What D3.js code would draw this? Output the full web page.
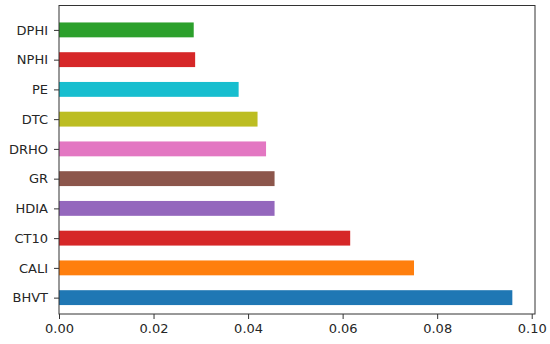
<!DOCTYPE html>
<meta charset="utf-8">
<head>
	<script src="https://d3js.org/d3.v7.min.js"></script>
	<style>
		body {
			margin: 0;
			background: #fff;
		}
		#chart svg {
			display: block;
		}
		.axis text {
			font-family: "DejaVu Sans", sans-serif;
			font-size: 13px;
			fill: #262626;
		}
		.axis line {
			stroke: #333;
		}
	</style>
</head>

<body>
	<div id="chart"></div>
</body>

<script type="text/javascript">
	// features, bottom to top
	var features = ["BHVT", "CALI", "CT10", "HDIA", "GR", "DRHO", "DTC", "PE", "NPHI", "DPHI"];
	var importances = [0.0959, 0.0751, 0.0616, 0.0456, 0.0456, 0.0438, 0.0420, 0.0380, 0.0288, 0.0285];
	var colors = ["#1f77b4", "#ff7f0e", "#d62728", "#9467bd", "#8c564b", "#e377c2", "#bcbd22", "#17becf", "#d62728", "#2ca02c"];
	var xTicks = [0, 0.02, 0.04, 0.06, 0.08, 0.10];

	var W = 550, H = 344;
	var plotLeft = 59, plotRight = 535, plotTop = 5.5, plotBottom = 314;

	var svg = d3.select("#chart").append("svg")
		.attr("width", W)
		.attr("height", H);

	var xScale = d3.scaleLinear()
		.domain([0, d3.max(importances) * 1.05])
		.range([plotLeft, plotRight]);

	// matplotlib-style index axis for the bar positions
	var yScale = d3.scaleLinear()
		.domain([-0.55, features.length - 1 + 0.82])
		.range([plotBottom, plotTop]);

	var barH = (yScale(0) - yScale(0.5));

	svg.append("g")
		.selectAll("rect")
		.data(features)
		.enter().append("rect")
		.attr("x", xScale(0))
		.attr("y", function(d, i) { return yScale(i) - barH / 2; })
		.attr("width", function(d, i) { return xScale(importances[i]) - xScale(0); })
		.attr("height", barH)
		.style("fill", function(d, i) { return colors[i]; });

	var xAxis = d3.axisBottom(xScale)
		.tickValues(xTicks)
		.tickFormat(d3.format(".2f"))
		.tickSize(5)
		.tickPadding(5);

	var yAxis = d3.axisLeft(yScale)
		.tickValues(d3.range(features.length))
		.tickFormat(function(i) { return features[i]; })
		.tickSize(5)
		.tickPadding(6);

	var xg = svg.append("g")
		.attr("class", "axis")
		.attr("transform", "translate(0," + plotBottom + ")")
		.call(xAxis);
	xg.select(".domain").remove();

	var yg = svg.append("g")
		.attr("class", "axis")
		.attr("transform", "translate(" + plotLeft + ",0)")
		.call(yAxis);
	yg.select(".domain").remove();

	// frame
	svg.append("rect")
		.attr("x", plotLeft)
		.attr("y", plotTop)
		.attr("width", plotRight - plotLeft)
		.attr("height", plotBottom - plotTop)
		.style("fill", "none")
		.style("stroke", "#333")
		.style("stroke-width", 1);
</script>
